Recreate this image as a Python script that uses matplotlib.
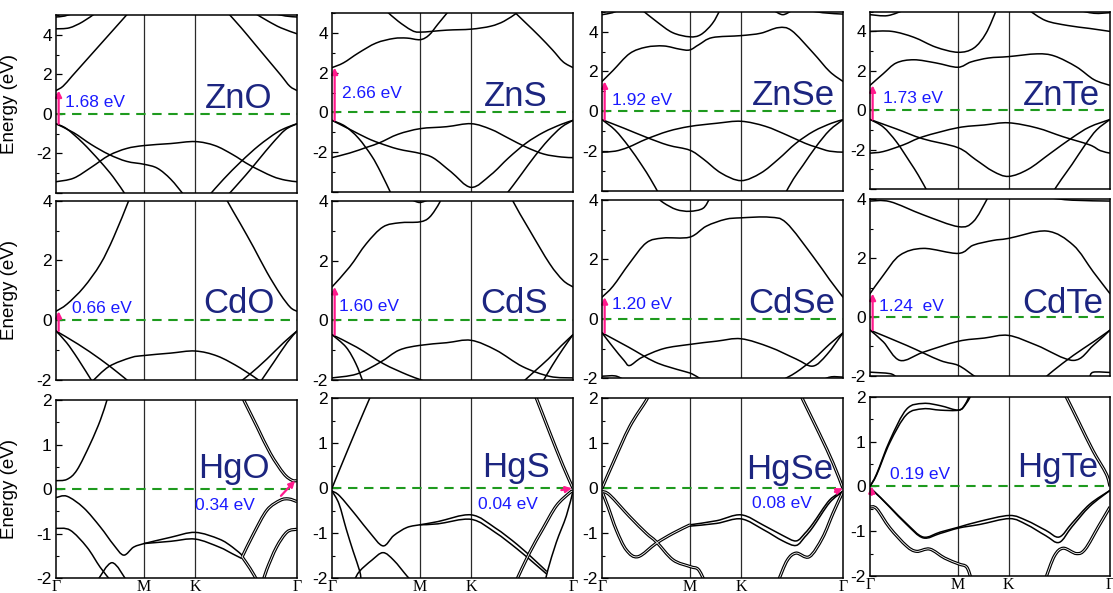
import numpy as np
import matplotlib
matplotlib.use("Agg")
import matplotlib.pyplot as plt
from matplotlib.path import Path
from matplotlib.patches import PathPatch
from matplotlib.ticker import MultipleLocator, FuncFormatter

plt.rcParams['font.family'] = ['Liberation Sans', 'DejaVu Sans']
plt.rcParams['axes.unicode_minus'] = False

# ---------------------------------------------------------------- data
# high-symmetry path Γ-M-K-Γ (hexagonal cell, distances in units of ΓM)
k_points = [0.0, 1.0, 1.577, 2.732]
k_labels = ['Γ', 'M', 'K', 'Γ']

compounds = ['ZnO', 'ZnS', 'ZnSe', 'ZnTe',
             'CdO', 'CdS', 'CdSe', 'CdTe',
             'HgO', 'HgS', 'HgSe', 'HgTe']
gap_labels = ['1.68 eV', '2.66 eV', '1.92 eV', '1.73 eV',
              '0.66 eV', '1.60 eV', '1.20 eV', '1.24  eV',
              '0.34 eV', '0.04 eV', '0.08 eV', '0.19 eV']
gap_values = [1.68, 2.66, 1.92, 1.73, 0.66, 1.60, 1.20, 1.24,
              0.34, 0.04, 0.08, 0.19]
# start of the gap arrow (k, E); the arrow rises by the gap value
gap_arrow_start = [(0.03, -0.50), (0.03, -0.40), (0.03, -0.42), (0.03, -0.47),
                   (0.03, -0.36), (0.03, -0.48), (0.03, -0.47), (0.03, -0.45),
                   (2.55, -0.15), (2.60, -0.04), (2.64, -0.08), (0.02, -0.19)]
gap_arrow_dk = [0, 0, 0, 0, 0, 0, 0, 0, 0.16, 0.12, 0.09, 0]

ZnO_bands = [
    [(0, 1.18), (0.08, 1.4), (0.18, 1.9), (0.33, 2.65), (0.5, 3.5), (0.65, 4.25), (0.82, 5.1)],
    [(2.732, 1.18), (2.65, 1.4), (2.55, 1.95), (2.4, 2.75), (2.25, 3.55), (2.1, 4.35), (1.95, 5.1)],
    [(0, 4.3), (0.15, 4.35), (0.3, 4.65), (0.45, 5.1)],
    [(0, 4.9), (0.1, 4.95), (0.2, 5.1)],
    [(2.732, 4.05), (2.55, 4.35), (2.4, 4.7), (2.25, 5.1)],
    [(2.45, 5.1), (2.6, 4.95), (2.732, 4.9)],
    [(0, -0.5), (0.12, -0.75), (0.3, -1.45), (0.5, -2.4), (0.65, -3.2), (0.79, -4.1)],
    [(0, -0.5), (0.2, -0.95), (0.4, -1.55), (0.6, -2.05), (0.8, -2.4), (1.0, -2.55),
     (1.15, -2.75), (1.3, -3.3), (1.45, -4.1)],
    [(0, -3.43), (0.2, -3.25), (0.4, -2.7), (0.6, -2.1), (0.8, -1.75), (1.0, -1.6),
     (1.3, -1.5), (1.577, -1.4), (1.8, -1.6), (2.0, -2.05), (2.2, -2.6), (2.45, -3.15),
     (2.6, -3.35), (2.732, -3.43)],
    [(1.74, -4.1), (1.9, -3.3), (2.1, -2.4), (2.3, -1.6), (2.5, -0.95), (2.62, -0.68), (2.732, -0.5)],
    [(2.732, -0.5), (2.6, -0.8), (2.45, -1.5), (2.3, -2.3), (2.15, -3.1), (1.95, -4.1)],
]

ZnS_bands = [
    [(0, 2.26), (0.13, 2.5), (0.3, 3.0), (0.5, 3.5), (0.7, 3.73), (0.85, 3.75), (1.0, 3.67),
     (1.1, 3.9), (1.2, 4.45), (1.32, 5.1)],
    [(0.62, 5.1), (0.75, 4.6), (0.9, 4.15), (1.0, 4.05), (1.3, 4.15), (1.577, 4.2),
     (1.8, 4.35), (1.95, 4.6), (2.09, 5.0)],
    [(2.06, 5.1), (2.2, 4.5), (2.35, 3.85), (2.5, 3.15), (2.62, 2.55), (2.732, 2.26)],
    [(0, -0.4), (0.15, -0.7), (0.3, -1.3), (0.45, -2.2), (0.55, -3.0), (0.67, -4.1)],
    [(0, -0.4), (0.2, -0.85), (0.4, -1.3), (0.54, -1.55), (0.75, -1.85), (1.0, -2.07),
     (1.15, -2.3), (1.35, -3.0), (1.577, -3.78), (1.8, -3.15), (2.0, -2.3), (2.2, -1.55),
     (2.4, -1.0), (2.6, -0.6), (2.732, -0.4)],
    [(0, -2.28), (0.2, -2.05), (0.4, -1.75), (0.54, -1.53), (0.75, -1.1), (1.0, -0.82),
     (1.3, -0.72), (1.577, -0.57), (1.8, -0.85), (2.0, -1.3), (2.2, -1.75), (2.4, -2.1),
     (2.6, -2.25), (2.732, -2.28)],
    [(2.732, -0.4), (2.6, -0.75), (2.45, -1.4), (2.3, -2.2), (2.15, -3.1), (2.05, -3.7), (1.98, -4.1)],
]

ZnSe_bands = [
    [(0, 1.5), (0.125, 2.05), (0.314, 2.9), (0.5, 3.22), (0.7, 3.28), (0.88, 3.12), (0.994, 3.08),
     (1.1, 3.35), (1.25, 3.7), (1.577, 3.8), (1.8, 3.92), (2.0, 4.2), (2.15, 4.05),
     (2.39, 2.95), (2.58, 2.0), (2.732, 1.5)],
    [(0.45, 5.1), (0.62, 4.5), (0.8, 3.95), (0.994, 3.74), (1.12, 3.85), (1.25, 4.4), (1.34, 5.1)],
    [(0, 4.85), (0.12, 4.95), (0.2, 5.1)],
    [(1.95, 5.05), (2.05, 4.85), (2.15, 5.05)],
    [(2.3, 5.1), (2.5, 4.95), (2.732, 4.88)],
    [(0, -0.42), (0.15, -0.95), (0.3, -1.75), (0.45, -2.7), (0.55, -3.4), (0.64, -4.1)],
    [(0, -0.42), (0.25, -0.85), (0.5, -1.3), (0.75, -1.7), (0.994, -1.95), (1.15, -2.4),
     (1.35, -3.1), (1.577, -3.48), (1.8, -3.1), (2.0, -2.4), (2.2, -1.6), (2.4, -1.0),
     (2.6, -0.6), (2.732, -0.42)],
    [(0, -2.05), (0.15, -2.0), (0.3, -1.8), (0.5, -1.4), (0.75, -1.0), (0.994, -0.76),
     (1.3, -0.6), (1.577, -0.5), (1.85, -0.75), (2.1, -1.2), (2.3, -1.6), (2.43, -1.8),
     (2.58, -2.0), (2.732, -2.05)],
    [(2.732, -0.42), (2.58, -0.95), (2.43, -1.75), (2.28, -2.7), (2.17, -3.4), (2.08, -4.1)],
]

ZnTe_bands = [
    [(0, 1.26), (0.15, 1.85), (0.3, 2.4), (0.5, 2.56), (0.75, 2.4), (1.0, 2.18), (1.15, 2.45),
     (1.35, 2.65), (1.577, 2.72), (1.9, 2.86), (2.1, 2.75), (2.35, 2.2), (2.55, 1.55), (2.732, 1.26)],
    [(0, 4.0), (0.25, 4.0), (0.5, 3.7), (0.75, 3.2), (1.0, 2.94), (1.18, 3.15), (1.32, 3.9), (1.44, 5.1)],
    [(0, 4.85), (0.2, 4.8), (0.4, 5.1)],
    [(1.8, 5.1), (2.0, 4.55), (2.25, 4.3), (2.5, 4.15), (2.732, 4.0)],
    [(2.35, 5.1), (2.55, 4.92), (2.732, 4.95)],
    [(0, -0.47), (0.15, -0.85), (0.3, -1.6), (0.45, -2.6), (0.55, -3.3), (0.65, -4.1)],
    [(0, -0.47), (0.3, -0.95), (0.6, -1.45), (1.0, -1.9), (1.2, -2.5), (1.4, -3.1), (1.577, -3.36),
     (1.8, -3.0), (2.05, -2.2), (2.3, -1.4), (2.5, -0.85), (2.732, -0.47)],
    [(0, -2.18), (0.15, -2.1), (0.38, -1.76), (0.6, -1.35), (1.0, -0.89), (1.3, -0.75),
     (1.577, -0.64), (1.9, -0.9), (2.2, -1.35), (2.5, -1.76), (2.62, -2.05), (2.732, -2.18)],
    [(2.732, -0.47), (2.58, -1.0), (2.45, -1.75), (2.3, -2.75), (2.18, -3.5), (2.09, -4.1)],
]

CdO_bands = [
    [(0, 0.3), (0.125, 0.54), (0.314, 1.1), (0.503, 1.88), (0.654, 2.78), (0.824, 4.0), (0.86, 4.3)],
    [(1.9, 4.3), (1.94, 4.0), (2.09, 3.23), (2.24, 2.44), (2.392, 1.6), (2.543, 0.87),
     (2.657, 0.43), (2.732, 0.3)],
    [(0, -0.36), (0.12, -0.75), (0.25, -1.3), (0.41, -2.05)],
    [(0, -0.36), (0.25, -0.8), (0.5, -1.3), (0.7, -1.75), (0.824, -2.05)],
    [(0.41, -2.05), (0.6, -1.55), (0.85, -1.25), (1.0, -1.18), (1.3, -1.1), (1.577, -1.03),
     (1.83, -1.2), (2.09, -1.6), (2.32, -2.05)],
    [(2.732, -0.36), (2.58, -0.75), (2.39, -1.3), (2.2, -1.8), (2.09, -2.05)],
    [(2.732, -0.36), (2.62, -0.75), (2.47, -1.4), (2.32, -2.05)],
]

CdS_bands = [
    [(0, 1.12), (0.2, 1.79), (0.389, 2.57), (0.578, 3.13), (0.767, 3.27), (0.994, 3.3),
     (1.107, 3.46), (1.22, 3.95), (1.26, 4.3)],
    [(0.9, 4.05), (0.994, 3.95), (1.1, 4.05)],
    [(2.02, 4.3), (2.052, 3.99), (2.24, 3.02), (2.467, 1.9), (2.619, 1.34), (2.732, 1.12)],
    [(0, -0.48), (0.16, -0.9), (0.27, -1.45), (0.35, -2.05)],
    [(0, -0.48), (0.28, -0.9), (0.58, -1.45), (0.85, -1.82), (0.994, -1.98), (1.05, -2.05)],
    [(0, -1.93), (0.28, -1.8), (0.55, -1.4), (0.76, -1.0), (0.994, -0.84), (1.3, -0.75),
     (1.577, -0.67), (1.86, -1.0), (2.16, -1.55), (2.47, -1.88), (2.732, -1.93)],
    [(2.732, -0.48), (2.6, -0.85), (2.45, -1.3), (2.3, -1.7), (2.17, -2.05)],
    [(2.732, -0.48), (2.62, -0.95), (2.5, -1.5), (2.39, -2.05)],
]

CdSe_bands = [
    [(0, 0.73), (0.125, 1.1), (0.314, 1.88), (0.503, 2.56), (0.692, 2.72), (0.994, 2.75),
     (1.183, 3.12), (1.4, 3.35), (1.577, 3.4), (1.9, 3.42), (2.09, 3.23), (2.392, 2.1),
     (2.58, 1.32), (2.732, 0.73)],
    [(0.62, 4.1), (0.7, 3.9), (0.843, 3.68), (0.994, 3.62), (1.145, 3.72), (1.22, 4.05)],
    [(0, -0.47), (0.125, -0.95), (0.25, -1.4), (0.314, -1.57), (0.45, -1.3), (0.7, -1.0),
     (0.994, -0.86), (1.3, -0.75), (1.577, -0.67), (1.9, -0.95), (2.2, -1.35), (2.39, -1.59),
     (2.55, -1.2), (2.732, -0.47)],
    [(0, -0.47), (0.3, -0.95), (0.6, -1.45), (0.85, -1.7), (0.994, -1.82), (1.08, -1.95), (1.13, -2.05)],
    [(2.732, -0.47), (2.58, -0.85), (2.4, -1.35), (2.2, -1.8), (2.05, -2.05)],
    [(0, -1.93), (0.15, -1.92), (0.25, -2.05)],
    [(2.5, -2.05), (2.6, -1.95), (2.732, -1.96)],
]

CdTe_bands = [
    [(0, 0.79), (0.152, 1.42), (0.341, 2.1), (0.607, 2.33), (1.005, 2.16), (1.176, 2.44),
     (1.4, 2.6), (1.577, 2.67), (2.011, 2.92), (2.314, 2.44), (2.542, 1.53), (2.732, 0.79)],
    [(0, 3.94), (0.228, 3.92), (0.607, 3.47), (1.005, 3.07), (1.176, 3.24), (1.328, 3.98), (1.36, 4.2)],
    [(2.05, 4.05), (2.3, 3.97), (2.732, 3.94)],
    [(0, -0.45), (0.152, -0.85), (0.341, -1.48), (0.607, -1.2), (1.005, -0.83), (1.3, -0.72),
     (1.577, -0.63), (1.9, -0.97), (2.314, -1.48), (2.542, -0.97), (2.732, -0.45)],
    [(0, -0.45), (0.418, -0.97), (0.797, -1.48), (1.005, -1.65), (1.176, -1.99), (1.21, -2.05)],
    [(2.732, -0.45), (2.542, -0.85), (2.314, -1.31), (2.09, -1.82), (2.0, -2.05)],
    [(0, -1.88), (0.228, -1.93), (0.3, -2.05)],
    [(2.5, -2.05), (2.542, -1.88), (2.732, -1.89)],
]

HgO_bands = [
    [(0, 0.19), (0.125, 0.22), (0.238, 0.43), (0.389, 1.02), (0.503, 1.55), (0.578, 2.0), (0.6, 2.15)],
    [(0, -0.19), (0.125, -0.16), (0.314, -0.42), (0.503, -0.85), (0.654, -1.25), (0.767, -1.48),
     (0.88, -1.3), (1.0, -1.22)],
    [(1.0, -1.22), (1.3, -1.08), (1.577, -0.97), (1.85, -1.12), (2.0, -1.3), (2.12, -1.5)],
    [(1.0, -1.22), (1.3, -1.17), (1.577, -1.12), (1.85, -1.3), (2.0, -1.45), (2.1, -1.55)],
    [(0, -0.88), (0.16, -0.92), (0.35, -1.3), (0.5, -1.75), (0.62, -2.05)],
    [(0.47, -2.05), (0.635, -1.65), (0.8, -2.05)],
]
HgO_pairs = [
    [(2.09, 2.15), (2.128, 2.0), (2.279, 1.4), (2.43, 0.8), (2.581, 0.35), (2.675, 0.2), (2.732, 0.19)],
    [(2.11, -1.52), (2.24, -1.0), (2.392, -0.47), (2.543, -0.25), (2.638, -0.22), (2.732, -0.28)],
    [(2.732, -0.9), (2.62, -0.96), (2.5, -1.3), (2.39, -1.8), (2.35, -2.05)],
    [(2.11, -1.52), (2.2, -1.78), (2.28, -2.05)],
]

HgS_bands = [
    [(0, 0.0), (0.087, 0.42), (0.276, 1.31), (0.427, 2.0), (0.45, 2.1)],
    [(0, -0.06), (0.08, -0.35), (0.162, -0.91), (0.24, -1.4), (0.314, -1.84), (0.33, -2.05)],
    [(0.25, -2.05), (0.314, -1.84), (0.45, -1.6), (0.578, -1.43), (0.7, -1.6), (0.85, -1.95), (0.9, -2.05)],
    [(0, -0.06), (0.087, -0.17), (0.276, -0.61), (0.427, -0.98), (0.578, -1.28), (0.7, -1.05),
     (0.85, -0.87), (1.0, -0.81)],
    [(1.0, -0.81), (1.2, -0.74), (1.577, -0.59), (1.85, -0.88), (2.1, -1.25), (2.3, -1.6), (2.43, -1.84)],
    [(1.0, -0.81), (1.2, -0.79), (1.577, -0.69), (1.85, -0.98), (2.1, -1.35), (2.3, -1.68), (2.43, -1.9)],
    [(2.732, -0.06), (2.657, -0.61), (2.543, -1.2), (2.449, -1.8), (2.42, -2.05)],
]
HgS_pairs = [
    [(2.29, 2.1), (2.317, 2.0), (2.468, 1.24), (2.619, 0.5), (2.732, 0.0)],
    [(2.09, -2.05), (2.24, -1.43), (2.39, -0.9), (2.543, -0.39), (2.694, -0.1), (2.732, -0.06)],
]

HgSe_bands = [
    [(1.0, -0.81), (1.3, -0.72), (1.577, -0.59), (1.83, -0.82), (2.05, -1.05), (2.2, -1.17),
     (2.3, -1.0), (2.392, -0.78), (2.58, -0.26), (2.732, -0.07)],
    [(1.0, -0.84), (1.3, -0.78), (1.577, -0.68), (1.83, -0.92), (2.05, -1.17), (2.2, -1.27),
     (2.3, -1.08), (2.392, -0.86), (2.58, -0.32), (2.732, -0.07)],
]
HgSe_pairs = [
    [(0, 0.0), (0.125, 0.56), (0.314, 1.37), (0.503, 1.96), (0.53, 2.1)],
    [(2.25, 2.1), (2.279, 1.96), (2.468, 1.2), (2.619, 0.56), (2.732, 0.0)],
    [(0, -0.07), (0.087, -0.15), (0.314, -0.63), (0.503, -1.0), (0.616, -1.19), (0.805, -1.59),
     (1.0, -1.74), (1.09, -1.8), (1.16, -2.05)],
    [(0, -0.07), (0.068, -0.41), (0.163, -0.93), (0.276, -1.37), (0.408, -1.52), (0.616, -1.22),
     (0.805, -1.0), (1.0, -0.81)],
    [(2.0, -2.05), (2.1, -1.6), (2.2, -1.44), (2.35, -1.52), (2.5, -1.1), (2.62, -0.55), (2.732, -0.07)],
]

HgTe_bands = [
    [(0, 0.0), (0.076, 0.28), (0.227, 1.03), (0.416, 1.72), (0.605, 1.85), (0.8, 1.8), (1.009, 1.7),
     (1.096, 1.85), (1.17, 2.1)],
    [(0, 0.0), (0.076, 0.26), (0.227, 0.98), (0.416, 1.6), (0.605, 1.73), (0.8, 1.7), (1.009, 1.7),
     (1.08, 1.82), (1.15, 2.1)],
    [(0, -0.09), (0.038, -0.1), (0.227, -0.46), (0.416, -0.83), (0.605, -1.13), (0.8, -1.02),
     (1.009, -0.91), (1.25, -0.78), (1.587, -0.65), (1.78, -0.76), (2.0, -0.98), (2.154, -1.13),
     (2.3, -0.82), (2.5, -0.4), (2.732, -0.09)],
    [(0, -0.09), (0.038, -0.1), (0.227, -0.47), (0.416, -0.85), (0.605, -1.15), (0.8, -1.05),
     (1.009, -0.93), (1.25, -0.85), (1.587, -0.72), (1.78, -0.85), (2.0, -1.1), (2.154, -1.25),
     (2.3, -0.9), (2.5, -0.45), (2.732, -0.09)],
]
HgTe_pairs = [
    [(2.2, 2.1), (2.233, 2.0), (2.385, 1.4), (2.537, 0.8), (2.689, 0.28), (2.732, 0.0)],
    [(0, -0.46), (0.076, -0.5), (0.227, -0.93), (0.416, -1.33), (0.53, -1.45), (0.68, -1.4),
     (0.85, -1.6), (1.009, -1.73), (1.1, -1.8), (1.15, -2.05)],
    [(2.0, -2.05), (2.1, -1.55), (2.2, -1.38), (2.35, -1.5), (2.45, -1.4), (2.6, -0.9), (2.732, -0.46)],
]

single_bands = [ZnO_bands, ZnS_bands, ZnSe_bands, ZnTe_bands,
                CdO_bands, CdS_bands, CdSe_bands, CdTe_bands,
                HgO_bands, HgS_bands, HgSe_bands, HgTe_bands]
paired_bands = [[], [], [], [], [], [], [], [],
                HgO_pairs, HgS_pairs, HgSe_pairs, HgTe_pairs]

row_ylims = [(-4, 5), (-2, 4), (-2, 2)]
row_ticks = [(2, 1), (2, 1), (1, 0.5)]

# ---------------------------------------------------------------- layout
W, H = 1113, 593
col_px = [(56, 297), (332, 573), (602, 843), (870, 1110)]
row_px = [[(15, 193), (13.3, 191.7), (11.7, 191), (11.7, 189)],
          [(200.7, 380), (201, 380), (200, 378.3), (199.3, 375.7)],
          [(400, 578.3), (398.3, 578.3), (398.3, 578.3), (396.7, 576)]]
name_pos = [(0.896, 0.478), (0.896, 0.48), (0.967, 0.48), (0.958, 0.475),
            (0.909, 0.374), (0.896, 0.376), (0.967, 0.366), (0.97, 0.357),
            (0.888, 0.561), (0.905, 0.56), (0.958, 0.55), (0.95, 0.55)]
gap_pos = [(0.037, 0.483), (0.041, 0.523), (0.041, 0.48), (0.054, 0.484),
           (0.066, 0.374), (0.029, 0.387), (0.041, 0.387), (0.037, 0.368),
           (0.577, 0.383), (0.606, 0.383), (0.622, 0.389), (0.083, 0.539)]

NAVY = '#1c2580'
BLUE = '#1a1aff'
PINK = '#ff1a8c'
GREEN = '#1e9a1e'


def band_path(pts):
    """Smooth Catmull-Rom curve through the band points as cubic Bezier segments."""
    p = np.asarray(pts, float)
    n = len(p)
    verts = [p[0]]
    codes = [Path.MOVETO]
    for i in range(n - 1):
        p0 = p[i - 1] if i > 0 else p[i]
        p1, p2 = p[i], p[i + 1]
        p3 = p[i + 2] if i + 2 < n else p[i + 1]
        verts += [p1 + (p2 - p0) / 6.0, p2 - (p3 - p1) / 6.0, p2]
        codes += [Path.CURVE4] * 3
    return Path(verts, codes)


fig = plt.figure(figsize=(W / 100, H / 100), dpi=100)

for idx, name in enumerate(compounds):
    r, c = divmod(idx, 4)
    x0, x1 = col_px[c]
    top, bot = row_px[r][c]
    ax = fig.add_axes([x0 / W, 1 - bot / H, (x1 - x0) / W, (bot - top) / H])
    ax.set_xlim(k_points[0], k_points[-1])
    ax.set_ylim(*row_ylims[r])

    for kx in k_points[1:3]:
        ax.axvline(kx, color='#2a2a2a', lw=0.9, zorder=1)
    ax.axhline(0, color=GREEN, lw=1.5, ls=(0, (4.5, 3.2)), zorder=2)

    for pts in single_bands[idx]:
        ax.add_patch(PathPatch(band_path(pts), fill=False, ec='black', lw=1.1,
                               capstyle='round', joinstyle='round', zorder=3))
    for pts in paired_bands[idx]:
        path = band_path(pts)
        ax.add_patch(PathPatch(path, fill=False, ec='black', lw=2.3,
                               capstyle='butt', zorder=3))
        ax.add_patch(PathPatch(path, fill=False, ec='white', lw=0.6,
                               capstyle='butt', zorder=3.1))

    k0, e0 = gap_arrow_start[idx]
    ax.annotate('', xy=(k0 + gap_arrow_dk[idx], e0 + gap_values[idx]), xytext=(k0, e0),
                arrowprops=dict(arrowstyle='-|>', color=PINK, lw=1.6,
                                mutation_scale=9, shrinkA=0, shrinkB=0),
                zorder=5, annotation_clip=False)

    ax.text(*name_pos[idx], name, transform=ax.transAxes, ha='right', va='baseline',
            fontsize=25, color=NAVY, zorder=6)
    ax.text(*gap_pos[idx], gap_labels[idx], transform=ax.transAxes, ha='left',
            va='baseline', fontsize=12.5, color=BLUE, zorder=6)

    major, minor = row_ticks[r]
    ax.yaxis.set_major_locator(MultipleLocator(major))
    ax.yaxis.set_minor_locator(MultipleLocator(minor))
    if r == 0:
        ax.yaxis.set_major_formatter(FuncFormatter(lambda v, p: '' if v < -3 else f'{v:g}'))
    else:
        ax.yaxis.set_major_formatter(FuncFormatter(lambda v, p: f'{v:g}'))
    ax.tick_params(axis='y', which='both', direction='in', left=True, right=False,
                   labelsize=12.5, pad=3)
    ax.tick_params(axis='y', which='major', length=4, width=0.9)
    ax.tick_params(axis='y', which='minor', length=2.5, width=0.8)

    ax.set_xticks(k_points)
    if r == 2:
        ax.set_xticklabels(k_labels, fontfamily='Liberation Serif', fontsize=11.5)
        ax.tick_params(axis='x', length=0, pad=0.5)
    else:
        ax.tick_params(axis='x', length=0, labelbottom=False)

    for s in ax.spines.values():
        s.set_linewidth(1.1)
        s.set_zorder(7)

    if c == 0:
        ax.set_ylabel('Energy (eV)', fontsize=13.5)
        ax.yaxis.set_label_coords(-0.158, 0.5)

fig.savefig('out.png', dpi=100)
